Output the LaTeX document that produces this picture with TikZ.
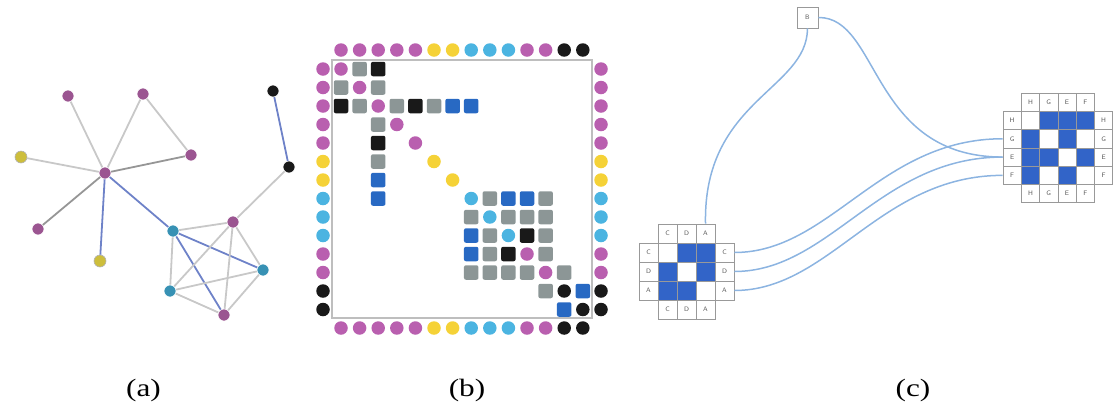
\documentclass[tikz,border=0pt]{standalone}
\usepackage{fontspec}
\usepackage{graphicx}
\setmainfont{Liberation Serif}
\definecolor{pk}{RGB}{185,95,175}
\definecolor{gpk}{RGB}{155,85,145}
\definecolor{ye}{RGB}{245,210,55}
\definecolor{gye}{RGB}{205,190,60}
\definecolor{cy}{RGB}{75,180,225}
\definecolor{gcy}{RGB}{55,145,180}
\definecolor{bk}{RGB}{25,25,25}
\definecolor{gr}{RGB}{140,150,150}
\definecolor{bl}{RGB}{40,105,195}
\definecolor{eg}{RGB}{200,200,200}
\definecolor{egd}{RGB}{150,150,150}
\definecolor{eb}{RGB}{110,130,200}
\definecolor{cb}{RGB}{50,100,200}
\definecolor{cl}{RGB}{140,180,225}
\definecolor{fr}{RGB}{190,190,190}
\begin{document}
\begin{tikzpicture}[x=1pt,y=-1pt,
  gn/.style={circle,inner sep=0pt,minimum size=12pt,draw=white,line width=0.6pt},
  ge/.style={draw=eg,line width=1.8pt},
  gd/.style={draw=egd,line width=1.8pt},
  gb/.style={draw=eb,line width=1.8pt},
  ldot/.style={circle,inner sep=0pt,minimum size=13.5pt},
  cell/.style={rectangle,rounded corners=2pt,inner sep=0pt,minimum size=14.5pt},
  mcl/.style={rectangle,inner sep=0pt,minimum size=19pt,draw=gray!80,line width=0.7pt},
  mcr/.style={rectangle,inner sep=0pt,minimum size=18.3pt,draw=gray!80,line width=0.7pt},
  lab/.style={font=\fontsize{6.5}{6.5}\selectfont\sffamily,text=gray!70!black},
  cv/.style={draw=cl,line width=1.5pt},
  captxt/.style={font=\fontsize{25}{25}\selectfont}
]
\useasboundingbox (0,0) rectangle (1113,408);

% ---------------- (a) graph ----------------
\node[gn,fill=gpk] (h) at (105,173) {};
\node[gn,fill=gpk] (p1) at (68,96) {};
\node[gn,fill=gpk] (p2) at (143,94) {};
\node[gn,fill=gpk] (p3) at (191,155) {};
\node[gn,fill=gye,draw=gray!60] (y1) at (21,157) {};
\node[gn,fill=gpk] (p4) at (38,229) {};
\node[gn,fill=gye,draw=gray!60] (y2) at (100,261) {};
\node[gn,fill=bk] (k1) at (273,91) {};
\node[gn,fill=bk] (k2) at (289,167) {};
\node[gn,fill=gpk] (p5) at (233,222) {};
\node[gn,fill=gcy] (c1) at (173,231) {};
\node[gn,fill=gcy] (c2) at (263,270) {};
\node[gn,fill=gcy] (c3) at (170,291) {};
\node[gn,fill=gpk] (p6) at (224,315) {};

\draw[ge] (h) -- (p1);
\draw[ge] (h) -- (p2);
\draw[ge] (p2) -- (p3);
\draw[gd] (h) -- (p3);
\draw[ge] (h) -- (y1);
\draw[gd] (h) -- (p4);
\draw[gb] (h) -- (y2);
\draw[gb] (h) -- (c1);
\draw[gb] (k1) -- (k2);
\draw[ge] (k2) -- (p5);
\draw[ge] (p5) -- (c1);
\draw[gb] (c1) -- (c2);
\draw[gb] (c1) -- (p6);
\draw[ge] (c1) -- (c3);
\draw[ge] (p5) -- (c3);
\draw[ge] (p5) -- (p6);
\draw[ge] (p5) -- (c2);
\draw[ge] (c3) -- (c2);
\draw[ge] (c3) -- (p6);
\draw[ge] (c2) -- (p6);

% ---------------- (b) matrix ----------------
\draw[fr,line width=1.5pt] (332,60) rectangle (592,318);
\foreach \k/\c in {0/pk,1/pk,2/pk,3/pk,4/pk,5/ye,6/ye,7/cy,8/cy,9/cy,10/pk,11/pk,12/bk,13/bk}{
  \node[ldot,fill=\c] (bt\k) at ({341+18.6*\k},50) {};
  \node[ldot,fill=\c] (bb\k) at ({341+18.6*\k},328) {};
  \node[ldot,fill=\c] (bl\k) at (323,{69+18.5*\k}) {};
  \node[ldot,fill=\c] (br\k) at (601,{69+18.5*\k}) {};
  \node[ldot,fill=\c] (bd\k) at ({341+18.6*\k},{69+18.5*\k}) {};
}
\foreach \i/\j/\c in {0/1/gr,0/2/bk,1/2/gr,2/3/gr,2/4/bk,2/5/gr,2/6/bl,2/7/bl,
  7/8/gr,7/9/bl,7/10/bl,7/11/gr,8/9/gr,8/10/gr,8/11/gr,9/10/bk,9/11/gr,10/11/gr,
  11/12/gr,12/13/bl}{
  \node[cell,fill=\c] (m\i-\j) at ({341+18.6*\j},{69+18.5*\i}) {};
  \node[cell,fill=\c] (m\j-\i) at ({341+18.6*\i},{69+18.5*\j}) {};
}

% ---------------- (c) matrices ----------------
\foreach \n/\t in {1/C,2/D,3/A}{
  \node[mcl,lab] (lt\n) at ({648.5+19*\n},233.5) {\t};
  \node[mcl,lab] (lb\n) at ({648.5+19*\n},309.5) {\t};
  \node[mcl,lab] (ll\n) at (648.5,{233.5+19*\n}) {\t};
  \node[mcl,lab] (lr\n) at (724.5,{233.5+19*\n}) {\t};
}
\foreach \r in {1,2,3}{
  \foreach \c in {1,2,3}{
    \ifnum\r=\c \def\f{white}\else\def\f{cb}\fi
    \node[mcl,fill=\f] (lm\r-\c) at ({648.5+19*\c},{233.5+19*\r}) {};
  }
}
\foreach \n/\t in {1/H,2/G,3/E,4/F}{
  \node[mcr,lab] (rt\n) at ({1012.15+18.3*\n},102.15) {\t};
  \node[mcr,lab] (rb\n) at ({1012.15+18.3*\n},193.65) {\t};
  \node[mcr,lab] (rl\n) at (1012.15,{102.15+18.3*\n}) {\t};
  \node[mcr,lab] (rr\n) at (1103.65,{102.15+18.3*\n}) {\t};
}
\foreach \r/\c/\f in {1/1/white,1/2/cb,1/3/cb,1/4/cb,
  2/1/cb,2/2/white,2/3/cb,2/4/white,
  3/1/cb,3/2/cb,3/3/white,3/4/cb,
  4/1/cb,4/2/white,4/3/cb,4/4/white}{
  \node[mcr,fill=\f] (rm\r-\c) at ({1012.15+18.3*\c},{102.15+18.3*\r}) {};
}
\node[rectangle,draw=gray!80,line width=0.9pt,minimum size=21pt,inner sep=0pt,lab] (bx) at (807.5,17.5) {B};

% curves
\draw[cv] (lr1.east) .. controls +(96,0) and +(-123,0) .. (rl2.west);
\draw[cv] (lr2.east) .. controls +(96,0) and +(-123,0) .. (rl3.west);
\draw[cv] (lr3.east) .. controls +(96,0) and +(-123,0) .. (rl4.west);
\draw[cv] (bx.south) .. controls (807,90) and (703,100) .. (lt3.north);
\draw[cv] (bx.east) .. controls (880,17) and (870,157) .. (rl3.west);

% captions
\node[captxt] (ca) at (143.5,390) {\scalebox{1.25}[1]{(a)}};
\node[captxt] (cbx) at (467,390) {\scalebox{1.25}[1]{(b)}};
\node[captxt] (cc) at (913,390) {\scalebox{1.25}[1]{(c)}};
\end{tikzpicture}
\end{document}
